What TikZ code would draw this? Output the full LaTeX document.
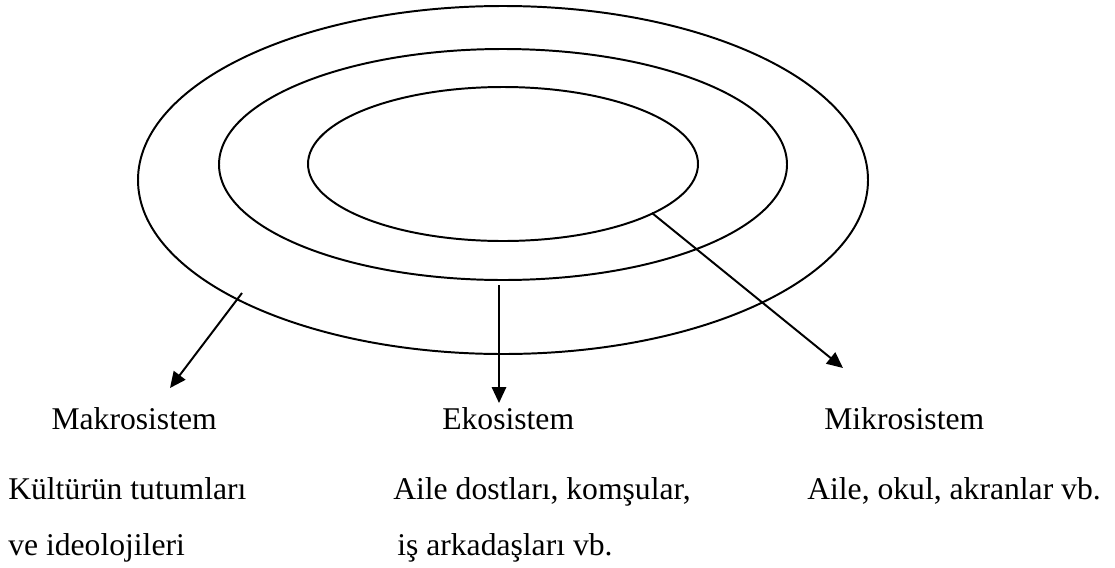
\documentclass[tikz,border=0pt]{standalone}
\usepackage{fontspec}
\setmainfont{Liberation Serif}
\usetikzlibrary{arrows.meta}

\tikzset{
  halka/.style={line width=1.4pt},
  ok/.style={line width=1.4pt, -{Triangle[length=0.4cm, width=0.36cm]}},
  etiket/.style={anchor=base west, inner sep=0pt, font=\fontsize{22.5}{27}\selectfont},
}

\begin{document}
\begin{tikzpicture}[x=0.025cm, y=-0.025cm]
\useasboundingbox (0,0) rectangle (1115,567);

% Halkalar
\draw[halka] (503,180) ellipse [x radius=365, y radius=174];
\draw[halka] (503,164.5) ellipse [x radius=284, y radius=115.5];
\draw[halka] (503,164) ellipse [x radius=195, y radius=77];

% Ok uçları
\coordinate (makroBas) at (242,293);
\coordinate (makroUc) at (170,388);
\coordinate (ekoBas) at (499,285);
\coordinate (ekoUc) at (499,403);
\coordinate (mikroBas) at (652,213);
\coordinate (mikroUc) at (843,368);

% Oklar
\draw[ok] (makroBas) -- (makroUc);
\draw[ok] (ekoBas) -- (ekoUc);
\draw[ok] (mikroBas) -- (mikroUc);

% Sistem adları
\node[etiket, anchor=base east] (makro) at (217,429) {Makrosistem};
\node[etiket] (eko) at (442,429) {Ekosistem};
\node[etiket] (mikro) at (824,429) {Mikrosistem};

% Açıklamalar
\node[etiket] (makroA) at (8,499) {Kültürün tutumları};
\node[etiket] (makroB) at (8,555) {ve ideolojileri};
\node[etiket] (ekoA) at (393,499) {Aile dostları, komşular,};
\node[etiket] (ekoB) at (397,555) {iş arkadaşları vb.};
\node[etiket] (mikroA) at (807,499) {Aile, okul, akranlar vb.};

\end{tikzpicture}
\end{document}
